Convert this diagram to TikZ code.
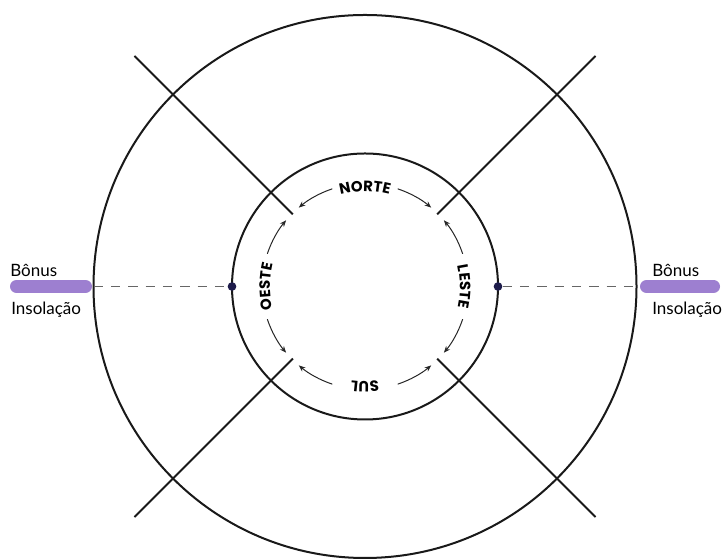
\documentclass[tikz,border=0pt]{standalone}
\usepackage{fontspec}
\setmainfont{Lato}
\newfontfamily\dirfont{Poppins}
\usetikzlibrary{calc,arrows.meta,decorations.text}
\definecolor{barpurple}{RGB}{157,127,208}
\definecolor{dotnavy}{RGB}{30,28,75}
\begin{document}
\begin{tikzpicture}[x=0.75pt,y=0.75pt,
  ring/.style={draw=black!90, line width=1.5pt},
  spoke/.style={draw=black!90, line width=1.5pt},
  dotmark/.style={circle, fill=dotnavy, inner sep=0pt, minimum size=6.5pt},
  dashline/.style={draw=black!60, line width=0.9pt, dash pattern=on 7pt off 6pt},
  bar/.style={draw=barpurple, line width=9.75pt, line cap=round},
  lbl/.style={font=\fontsize{12.75}{14}\selectfont, text=black, inner sep=0pt},
  dirarrow/.style={draw=black!85, line width=0.75pt, -{Stealth[length=5pt,width=4pt]}},
  curvetext/.style={decorate, decoration={text along path, text align=center, text={|\dirfont\bfseries\fontsize{11.2}{12}\selectfont|#1}}}
]
\useasboundingbox (0,0) rectangle (724,559);
\coordinate (C) at (365,272.5);
% rings
\draw[ring] (C) circle[radius=271.5];
\draw[ring] (C) circle[radius=133];
% spokes
\foreach \a in {45,135,225,315}{
  \coordinate (sin\a) at ($(C)+(\a:102)$);
  \coordinate (sout\a) at ($(C)+(\a:326)$);
  \draw[spoke] (sin\a) -- (sout\a);
}
% dots and dashed links
\node[dotmark] (W) at ($(C)+(180:133)$) {};
\node[dotmark] (E) at ($(C)+(0:133)$) {};
\coordinate (OW) at ($(C)+(180:271.5)$);
\coordinate (OE) at ($(C)+(0:271.5)$);
\draw[dashline] (OW) -- (W);
\draw[dashline] (E) -- (OE);
% purple bars
\coordinate (BLs) at (16.5,272.5);
\coordinate (BLe) at ($(OW)+(-8,0)$);
\coordinate (BRs) at ($(OE)+(10,0)$);
\coordinate (BRe) at (713.5,272.5);
\draw[bar] (BLs) -- (BLe);
\draw[bar] (BRs) -- (BRe);
% side labels
\node[lbl, anchor=base west] (bonusL) at (10,282) {Bônus};
\node[lbl, anchor=base west] (insolL) at (11,244) {Insolação};
\node[lbl, anchor=base west] (bonusR) at (652,282) {Bônus};
\node[lbl, anchor=base west] (insolR) at (652,244) {Insolação};
% curved direction labels
\path[curvetext=NORTE] ($(C)+(115:95)$) arc[start angle=115, end angle=65, radius=95];
\path[curvetext=LESTE] ($(C)+(25:95)$) arc[start angle=25, end angle=-25, radius=95];
\path[curvetext=SUL] ($(C)+(-65:95)$) arc[start angle=-65, end angle=-115, radius=95];
\path[curvetext=OESTE] ($(C)+(205:95)$) arc[start angle=205, end angle=155, radius=95];
% arrows
\foreach \ang in {90,0,270,180}{
  \draw[dirarrow] ($(C)+(\ang+18.5:103)$) arc[start angle=\ang+18.5, end angle=\ang+40, radius=103];
  \draw[dirarrow] ($(C)+(\ang-18.5:103)$) arc[start angle=\ang-18.5, end angle=\ang-40, radius=103];
}
\end{tikzpicture}
\end{document}
